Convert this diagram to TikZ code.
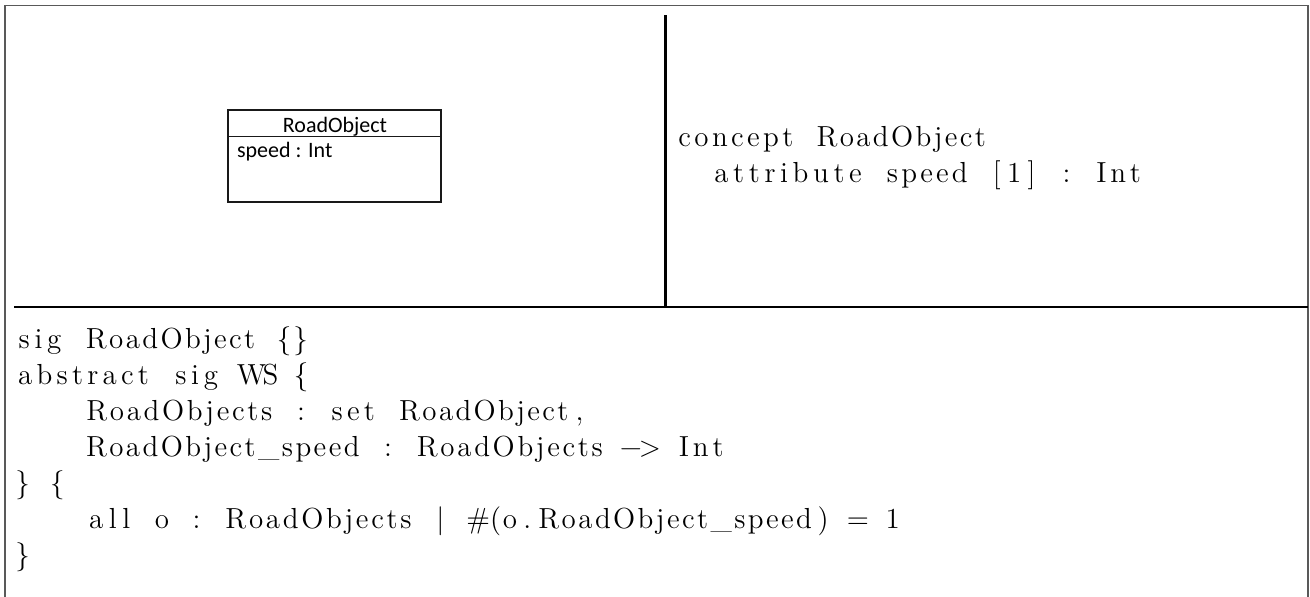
\documentclass[tikz,border=0pt]{standalone}
\usepackage{fontspec}
\newfontfamily\umlfont{Carlito}

% Fixed-column typesetting of source lines: runs of letters (or of other
% characters) fill one column per character, spread evenly with \hss;
% every space takes exactly one column.
\ExplSyntaxOn
\dim_new:N \l_cc_col_dim
\dim_set:Nn \l_cc_col_dim {8.7pt}
\tl_new:N \l_cc_run_tl
\int_new:N \l_cc_n_int
\int_new:N \l_cc_cls_int
\int_new:N \l_cc_new_int
\str_const:Nn \c_cc_letters_str {abcdefghijklmnopqrstuvwxyzABCDEFGHIJKLMNOPQRSTUVWXYZ0123456789_}
\cs_generate_variant:Nn \str_const:Nn {c}
\cs_generate_variant:Nn \str_map_inline:Nn {c}
\cs_new:Npn \cc_glyph:n #1 { \str_if_eq:nnTF {#1} {-} { \symbol{"2212} } {#1} }
\cs_new_protected:Npn \cc_class:n #1
  {
    \tl_if_blank:nTF {#1}
      { \int_set:Nn \l_cc_new_int {1} }
      {
        \str_if_in:NnTF \c_cc_letters_str {#1}
          { \int_set:Nn \l_cc_new_int {2} }
          { \int_set:Nn \l_cc_new_int {3} }
      }
  }
\cs_new_protected:Npn \cc_flush:
  {
    \int_compare:nNnT \l_cc_n_int > 0
      {
        \int_compare:nNnTF \l_cc_cls_int = 1
          { \hbox_to_wd:nn { \l_cc_n_int \l_cc_col_dim } { } }
          { \hbox_to_wd:nn { \l_cc_n_int \l_cc_col_dim } { \l_cc_run_tl \hss } }
      }
    \tl_clear:N \l_cc_run_tl
    \int_zero:N \l_cc_n_int
  }
\NewDocumentCommand \setcodeline { m v } { \str_const:cn { c_cc_line_#1_str } {#2} }
\NewDocumentCommand \codeline { m }
  {
    \tl_clear:N \l_cc_run_tl
    \int_zero:N \l_cc_n_int
    \int_zero:N \l_cc_cls_int
    \str_map_inline:cn { c_cc_line_#1_str }
      {
        \cc_class:n {##1}
        \int_compare:nNnF \l_cc_new_int = \l_cc_cls_int { \cc_flush: }
        \int_set_eq:NN \l_cc_cls_int \l_cc_new_int
        \tl_put_right:Nn \l_cc_run_tl { \hss \cc_glyph:n {##1} }
        \int_incr:N \l_cc_n_int
      }
    \cc_flush:
  }
\ExplSyntaxOff

\setcodeline{r1}!concept RoadObject!
\setcodeline{r2}!attribute speed [1] : Int!
\setcodeline{a1}!sig RoadObject {}!
\setcodeline{a2}!abstract sig WS {!
\setcodeline{a3}!RoadObjects : set RoadObject,!
\setcodeline{a4}!RoadObject_speed : RoadObjects -> Int!
\setcodeline{a5}!} {!
\setcodeline{a6}!all o : RoadObjects | #(o.RoadObject_speed) = 1!
\setcodeline{a7}!}!

\begin{document}
\begin{tikzpicture}[x=0.5pt,y=-0.5pt,
  code/.style={anchor=base west, inner sep=0pt, outer sep=0pt,
    font=\fontsize{14.5pt}{18pt}\selectfont},
  umltext/.style={inner sep=0pt, outer sep=0pt,
    font=\umlfont\fontsize{11pt}{13pt}\selectfont},
  frameline/.style={draw=black!65, line width=0.8pt},
  classbox/.style={draw=black!90, line width=0.6pt, inner sep=0pt,
    minimum width=106.5pt, minimum height=46pt}]
\useasboundingbox (0,0) rectangle (1310,596);

% outer frame (open at the bottom)
\draw[frameline] (5,620) -- (5,5.5) -- (1308,5.5) -- (1308,620);

% panel dividers
\coordinate (vtop) at (665.5,15);
\coordinate (vbot) at (665.5,307);
\coordinate (hleft) at (14,307);
\coordinate (hright) at (1308,307);
\draw[line width=1.25pt] (vtop) -- (vbot);
\draw[line width=0.75pt] (hleft) -- (hright);

% UML class
\node[classbox] (cls) at (334.5,156) {};
\draw[line width=0.6pt, black!90] ([yshift=-13.5pt]cls.north west) -- ([yshift=-13.5pt]cls.north east);
\node[umltext, anchor=base] (clsname) at (335,132) {RoadObject};
\node[umltext, anchor=base west] (clsattr) at (237,157) {speed : Int};

% concept text
\node[code] (r1) at (675,146) {\codeline{r1}};
\node[code] (r2) at (709.8,182) {\codeline{r2}};

% Alloy text
\node[code] (a1) at (14,348) {\codeline{a1}};
\node[code] (a2) at (14,384) {\codeline{a2}};
\node[code] (a3) at (83.6,420) {\codeline{a3}};
\node[code] (a4) at (83.6,456) {\codeline{a4}};
\node[code] (a5) at (14,492) {\codeline{a5}};
\node[code] (a6) at (83.6,528) {\codeline{a6}};
\node[code] (a7) at (14,564) {\codeline{a7}};
\end{tikzpicture}
\end{document}
